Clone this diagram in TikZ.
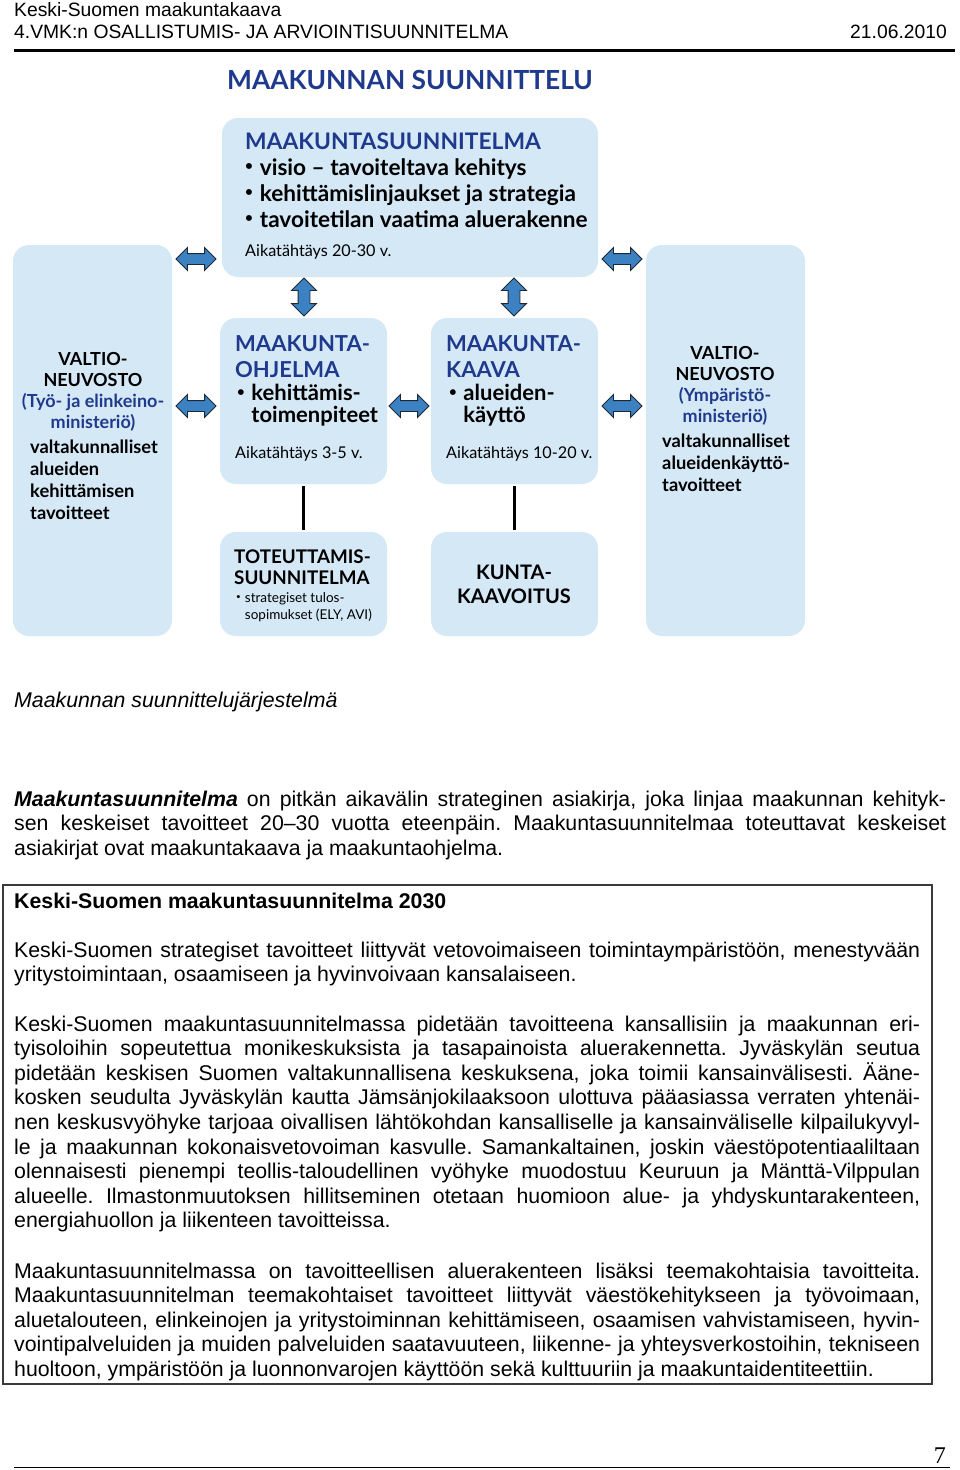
\documentclass[tikz,border=0pt]{standalone}
\usepackage{fontspec}
\setmainfont{Liberation Sans}
\newfontfamily\gillfont{Lato}
\newfontfamily\serifnum{Liberation Serif}
\usepackage{xcolor}
\usetikzlibrary{shapes.arrows}
\frenchspacing
\definecolor{inkblue}{HTML}{1F3A8C}
\definecolor{paleblue}{HTML}{D5E8F6}
\definecolor{arrowblue}{HTML}{3C82C3}
\definecolor{arrowedge}{HTML}{1E2835}
\definecolor{framegray}{HTML}{3A3A3A}
\newcommand{\bodyfont}{\fontsize{21.3}{24.6}\selectfont}
\newcommand{\blt}{\raisebox{0.18em}{\scalebox{0.6}{•}}\hspace{0.3em}}
\tikzset{
  plate/.style={fill=paleblue, rounded corners=16pt, inner sep=0pt},
  hdbl/.style={double arrow, fill=arrowblue, draw=arrowedge, line width=0.9pt,
    minimum height=40pt, inner xsep=0pt, inner ysep=5pt, double arrow head extend=6pt},
  vdbl/.style={hdbl, rotate=90, minimum height=38pt, inner ysep=5.5pt, double arrow head extend=6.5pt},
  link/.style={line width=3pt, black, shorten <=2pt, shorten >=2pt},
  lbl/.style={inner sep=0pt, font=\gillfont\bfseries},
  para/.style={inner sep=0pt, anchor=base west, align=justify, font=\bodyfont},
}

\begin{document}
\begin{tikzpicture}[x=1pt, y=-1pt]
    \useasboundingbox (0,0) rectangle (960,1470);
    \fill[white] (0,0) rectangle (960,1470);

    % Page header
    \node[anchor=base west, inner sep=0pt, font=\fontsize{19.3}{22}\selectfont] (hdr1) at (14,16) {Keski-Suomen maakuntakaava};
    \node[anchor=base west, inner sep=0pt, font=\fontsize{19.3}{22}\selectfont] (hdr2) at (14,38) {4.VMK:n OSALLISTUMIS- JA ARVIOINTISUUNNITELMA};
    \node[anchor=base east, inner sep=0pt, font=\fontsize{19.3}{22}\selectfont] (hdrdate) at (947,38) {21.06.2010};
    \draw[line width=3pt] (14,50) -- (955,50);

    % Diagram title
    \node[lbl, anchor=base west, inner sep=0pt, inkblue, font=\gillfont\bfseries\fontsize{26.3}{27}\selectfont] (title) at (227,89) {MAAKUNNAN SUUNNITTELU};

    % Boxes
    \node[plate, minimum width=376pt, minimum height=159pt] (msuun) at (410,197.5) {};
    \node[plate, minimum width=159pt, minimum height=391pt] (vnleft) at (92.5,440.5) {};
    \node[plate, minimum width=159pt, minimum height=391pt] (vnright) at (725.5,440.5) {};
    \node[plate, minimum width=167pt, minimum height=166pt] (mohj) at (303.5,401) {};
    \node[plate, minimum width=167pt, minimum height=166pt] (mkaava) at (514.5,401) {};
    \node[plate, minimum width=167pt, minimum height=104pt] (toteutus) at (303.5,584) {};
    \node[plate, minimum width=167pt, minimum height=104pt] (kunta) at (514.5,584) {};

    % Double arrows between the boxes
    \foreach \ax/\ay [count=\i] in {196/259, 622/259, 196/406, 409/406, 622/406} {
        \node[hdbl] (harrow\i) at (\ax,\ay) {};
    }
    \foreach \ax [count=\i] in {304, 514} {
        \node[vdbl] (varrow\i) at (\ax,297) {};
    }

    % Plain links
    \draw[link] (mohj) -- (toteutus);
    \draw[link] (mkaava) -- (kunta);

    % Maakuntasuunnitelma (multi-line labels sit on their last baseline)
    \node[lbl, anchor=base west, inkblue, font=\gillfont\bfseries\fontsize{22.8}{26}\selectfont] (msuunhead) at (245,149) {MAAKUNTASUUNNITELMA};
    \node[lbl, anchor=base west, align=left, font=\gillfont\bfseries\fontsize{22.6}{26}\selectfont] (msuunlist) at (245,227)
        {\blt visio – tavoiteltava kehitys\\\blt kehittämislinjaukset ja strategia\\\blt tavoitetilan vaatima aluerakenne};
    \node[lbl, anchor=base west, font=\gillfont\fontsize{16.2}{20}\selectfont] (msuuntime) at (245,256) {Aikatähtäys 20-30 v.};

    % Maakuntaohjelma
    \node[lbl, anchor=base west, align=left, inkblue, font=\gillfont\bfseries\fontsize{22}{26}\selectfont] (mohjhead) at (235,377) {MAAKUNTA-\\OHJELMA};
    \node[lbl, anchor=base west, align=left, font=\gillfont\bfseries\fontsize{22}{22}\selectfont] (mohjlist) at (237,422) {\blt kehittämis-\\\hphantom{\blt}toimenpiteet};
    \node[lbl, anchor=base west, font=\gillfont\fontsize{16.2}{20}\selectfont] (mohjtime) at (235,458) {Aikatähtäys 3-5 v.};

    % Maakuntakaava
    \node[lbl, anchor=base west, align=left, inkblue, font=\gillfont\bfseries\fontsize{22}{26}\selectfont] (mkaavahead) at (446,377) {MAAKUNTA-\\KAAVA};
    \node[lbl, anchor=base west, align=left, font=\gillfont\bfseries\fontsize{22}{22}\selectfont] (mkaavalist) at (449,422) {\blt alueiden-\\\hphantom{\blt}käyttö};
    \node[lbl, anchor=base west, font=\gillfont\fontsize{16.2}{20}\selectfont] (mkaavatime) at (446,458) {Aikatähtäys 10-20 v.};

    % Toteuttamissuunnitelma and kuntakaavoitus
    \node[lbl, anchor=base west, align=left, font=\gillfont\bfseries\fontsize{18.8}{21}\selectfont] (totehead) at (234,584) {TOTEUTTAMIS-\\SUUNNITELMA};
    \node[lbl, anchor=base west, align=left, font=\gillfont\fontsize{13.5}{17}\selectfont] (totelist) at (236,619) {\blt strategiset tulos-\\\hphantom{\blt}sopimukset (ELY, AVI)};
    \node[lbl, anchor=base, align=center, font=\gillfont\bfseries\fontsize{20}{24}\selectfont] (kuntahead) at (514,603) {KUNTA-\\KAAVOITUS};

    % Valtioneuvosto, left
    \node[lbl, anchor=base, align=center, font=\gillfont\bfseries\fontsize{18}{20.7}\selectfont] (vnlefthead) at (93,428)
        {VALTIO-\\NEUVOSTO\\\textcolor{inkblue}{(Työ- ja elinkeino-}\\\textcolor{inkblue}{ministeriö)}};
    \node[lbl, anchor=base west, align=left, font=\gillfont\bfseries\fontsize{18.3}{21.7}\selectfont] (vnleftbody) at (30,519)
        {valtakunnalliset\\alueiden\\kehittämisen\\tavoitteet};

    % Valtioneuvosto, right
    \node[lbl, anchor=base, align=center, font=\gillfont\bfseries\fontsize{18}{20.7}\selectfont] (vnrighthead) at (725,422)
        {VALTIO-\\NEUVOSTO\\\textcolor{inkblue}{(Ympäristö-}\\\textcolor{inkblue}{ministeriö)}};
    \node[lbl, anchor=base west, align=left, font=\gillfont\bfseries\fontsize{18.3}{21.7}\selectfont] (vnrightbody) at (662,491)
        {valtakunnalliset\\alueidenkäyttö-\\tavoitteet};

    % Caption and first paragraph
    \node[anchor=base west, inner sep=0pt, font=\bodyfont\itshape] (caption) at (14,707) {Maakunnan suunnittelujärjestelmä};
    \node[para, text width=932pt] (intro) at (14,806)
        {\textbf{\textit{Maakuntasuunnitelma}} on pitkän aikavälin strateginen asiakirja, joka linjaa maakunnan kehityk-\linebreak
         sen keskeiset tavoitteet 20–30 vuotta eteenpäin. Maakuntasuunnitelmaa toteuttavat keskeiset\linebreak
         asiakirjat ovat maakuntakaava ja maakuntaohjelma.};

    % Framed summary
    \draw[framegray, line width=1.3pt] (3,885) rectangle (932,1384);
    \node[anchor=base west, inner sep=0pt, font=\bodyfont\bfseries] (boxhead) at (14,908) {Keski-Suomen maakuntasuunnitelma 2030};
    \node[para, text width=906pt] (boxpara1) at (14,957)
        {Keski-Suomen strategiset tavoitteet liittyvät vetovoimaiseen toimintaympäristöön, menestyvään\linebreak
         yritystoimintaan, osaamiseen ja hyvinvoivaan kansalaiseen.};
    \node[para, text width=906pt] (boxpara2) at (14,1031)
        {Keski-Suomen maakuntasuunnitelmassa pidetään tavoitteena kansallisiin ja maakunnan eri-\linebreak
         tyisoloihin sopeutettua monikeskuksista ja tasapainoista aluerakennetta. Jyväskylän seutua\linebreak
         pidetään keskisen Suomen valtakunnallisena keskuksena, joka toimii kansainvälisesti. Ääne-\linebreak
         kosken seudulta Jyväskylän kautta Jämsänjokilaaksoon ulottuva pääasiassa verraten yhtenäi-\linebreak
         nen keskusvyöhyke tarjoaa oivallisen lähtökohdan kansalliselle ja kansainväliselle kilpailukyvyl-\linebreak
         le ja maakunnan kokonaisvetovoiman kasvulle. Samankaltainen, joskin väestöpotentiaaliltaan\linebreak
         olennaisesti pienempi teollis-taloudellinen vyöhyke muodostuu Keuruun ja Mänttä-Vilppulan\linebreak
         alueelle. Ilmastonmuutoksen hillitseminen otetaan huomioon alue- ja yhdyskuntarakenteen,\linebreak
         energiahuollon ja liikenteen tavoitteissa.};
    \node[para, text width=906pt] (boxpara3) at (14,1278)
        {Maakuntasuunnitelmassa on tavoitteellisen aluerakenteen lisäksi teemakohtaisia tavoitteita.\linebreak
         Maakuntasuunnitelman teemakohtaiset tavoitteet liittyvät väestökehitykseen ja työvoimaan,\linebreak
         aluetalouteen, elinkeinojen ja yritystoiminnan kehittämiseen, osaamisen vahvistamiseen, hyvin-\linebreak
         vointipalveluiden ja muiden palveluiden saatavuuteen, liikenne- ja yhteysverkostoihin, tekniseen\linebreak
         huoltoon, ympäristöön ja luonnonvarojen käyttöön sekä kulttuuriin ja maakuntaidentiteettiin.};

    % Page footer
    \node[anchor=base east, inner sep=0pt, font=\serifnum\fontsize{24}{24}\selectfont] (pageno) at (946,1463) {7};
    \draw[line width=1.2pt] (14,1467.5) -- (950,1467.5);

\end{tikzpicture}
\end{document}
